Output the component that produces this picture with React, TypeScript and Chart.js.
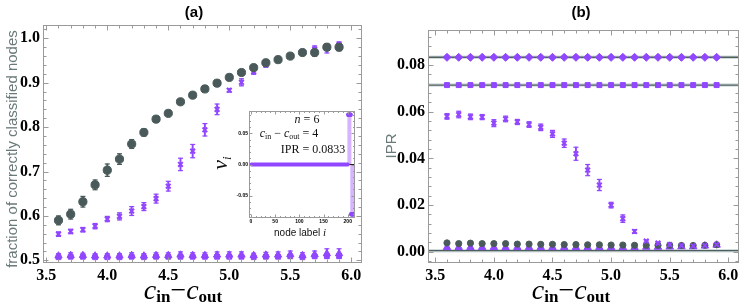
import React, { useEffect, useRef } from "react";
import { Chart, registerables } from "chart.js";
Chart.register(...registerables);

// ---------- shared ----------
const X_VALUES = [3.6, 3.7, 3.8, 3.9, 4.0, 4.1, 4.2, 4.3, 4.4, 4.5, 4.6, 4.7, 4.8, 4.9, 5.0, 5.1, 5.2, 5.3, 5.4, 5.5, 5.6, 5.7, 5.8, 5.9];
const X_TICKS = [3.5, 4.0, 4.5, 5.0, 5.5, 6.0];

// ---------- panel (a) ----------
const A_Y_TICKS = [0.5, 0.6, 0.7, 0.8, 0.9, 1.0];
const A_GRAY = [0.590, 0.604, 0.632, 0.670, 0.703, 0.728, 0.762, 0.788, 0.818, 0.831, 0.857, 0.872, 0.886, 0.899, 0.912, 0.923, 0.934, 0.945, 0.952, 0.960, 0.968, 0.968, 0.980, 0.980];
const A_GRAY_ERR = [0.010, 0.011, 0.012, 0.011, 0.014, 0.012, 0.010, 0.008, 0.004, 0.004, 0.004, 0.004, 0.004, 0.004, 0.004, 0.004, 0.004, 0.004, 0.003, 0.003, 0.004, 0.008, 0.006, 0.008];
const A_CROSS = [0.559, 0.565, 0.569, 0.577, 0.593, 0.599, 0.611, 0.621, 0.639, 0.667, 0.716, 0.746, 0.794, 0.840, 0.883, 0.901, 0.925, 0.940, 0.952, 0.960, 0.968, 0.976, 0.977, 0.986];
const A_CROSS_ERR = [0.005, 0.005, 0.005, 0.006, 0.006, 0.008, 0.010, 0.009, 0.010, 0.011, 0.014, 0.015, 0.014, 0.012, 0.004, 0.008, 0.006, 0.005, 0.004, 0.004, 0.004, 0.007, 0.010, 0.006];
const A_TRI = [0.510, 0.511, 0.511, 0.510, 0.510, 0.510, 0.511, 0.510, 0.511, 0.511, 0.512, 0.511, 0.511, 0.512, 0.512, 0.512, 0.511, 0.512, 0.512, 0.513, 0.511, 0.513, 0.515, 0.515];
const A_TRI_ERR = [0.005, 0.006, 0.005, 0.005, 0.005, 0.005, 0.006, 0.005, 0.006, 0.006, 0.007, 0.006, 0.006, 0.007, 0.007, 0.007, 0.005, 0.006, 0.007, 0.008, 0.006, 0.008, 0.011, 0.011];
const A_SQUARE = [0.507, 0.508, 0.508, 0.507, 0.507, 0.507, 0.508, 0.507, 0.508, 0.508, 0.508, 0.508, 0.508, 0.508, 0.508, 0.508, 0.507, 0.508, 0.508, 0.509, 0.507, 0.509, 0.510, 0.510];

// ---------- panel (b) ----------
const B_Y_TICKS = [0.0, 0.02, 0.04, 0.06, 0.08];
const B_DIAMOND = [0.0833, 0.0833, 0.0833, 0.0833, 0.0833, 0.0833, 0.0833, 0.0833, 0.0833, 0.0833, 0.0833, 0.0833, 0.0833, 0.0833, 0.0833, 0.0833, 0.0833, 0.0833, 0.0833, 0.0833, 0.0833, 0.0833, 0.0833, 0.0833];
const B_DIAMOND_ERR = [0.0008, 0.0008, 0.0008, 0.0008, 0.0008, 0.0008, 0.0008, 0.0008, 0.0008, 0.0008, 0.0008, 0.0008, 0.0008, 0.0008, 0.0008, 0.0008, 0.0008, 0.0008, 0.0008, 0.0008, 0.0008, 0.0008, 0.0008, 0.0008];
const B_SQUARE = [0.0714, 0.0714, 0.0714, 0.0714, 0.0714, 0.0714, 0.0714, 0.0714, 0.0714, 0.0714, 0.0714, 0.0714, 0.0714, 0.0714, 0.0714, 0.0714, 0.0714, 0.0714, 0.0714, 0.0714, 0.0714, 0.0714, 0.0714, 0.0714];
const B_CROSS = [0.0580, 0.0588, 0.0578, 0.0577, 0.0551, 0.0569, 0.0556, 0.0545, 0.0533, 0.0505, 0.0465, 0.0420, 0.0350, 0.0286, 0.0200, 0.0142, 0.0087, 0.0046, 0.0037, 0.0031, 0.0027, 0.0025, 0.0027, 0.0031];
const B_CROSS_ERR = [0.0012, 0.0014, 0.0012, 0.0011, 0.0015, 0.0012, 0.0011, 0.0012, 0.0014, 0.0015, 0.0018, 0.0028, 0.0024, 0.0024, 0.0012, 0.0016, 0.0008, 0.0004, 0.0004, 0.0004, 0.0004, 0.0004, 0.0004, 0.0004];
const B_GRAY = [0.0038, 0.0035, 0.0037, 0.0035, 0.0035, 0.0035, 0.0033, 0.0033, 0.0032, 0.0032, 0.0031, 0.0031, 0.0030, 0.0030, 0.0029, 0.0029, 0.0028, 0.0028, 0.0028, 0.0028, 0.0027, 0.0027, 0.0028, 0.0030];
const B_TRI = [0.0019, 0.0019, 0.0019, 0.0019, 0.0019, 0.0019, 0.0019, 0.0019, 0.0019, 0.0019, 0.0019, 0.0019, 0.0019, 0.0019, 0.0019, 0.0019, 0.0019, 0.0020, 0.0020, 0.0021, 0.0022, 0.0022, 0.0025, 0.0029];
const B_REF_LINES = [0.0833, 0.0714, 0.0005];

// ---------- inset ----------
const INSET_ZERO_SPAN = [1, 200];
const INSET_POS_NODES = [201, 202, 203, 204, 205, 206];
const INSET_POS_VALUES = [0.08, 0.08, 0.08, 0.08, 0.08, 0.08];
const INSET_NEG_NODES = [207, 208, 209, 210, 211, 212];
const INSET_NEG_VALUES = [-0.08, -0.08, -0.08, -0.08, -0.08, -0.08];
const INSET_X_TICKS = [0, 50, 100, 150, 200];
const INSET_Y_TICKS = [-0.05, 0, 0.05];

// ---------- styles ----------
const PURPLE = "#9146ff";
const GRAY = "#4a5a5a";
const LABEL_GRAY = "#6a7a7a";
const SERIF = "'Liberation Serif', 'Times New Roman', 'DejaVu Serif', serif";
const SANS = "'Liberation Sans', Arial, sans-serif";

const pts = (ys: number[]) => X_VALUES.map((x, i) => ({ x, y: ys[i] }));

function markerDs(ys: number[], style: string, radius: number, color: string, border = 1) {
  return {
    type: "scatter",
    data: pts(ys),
    pointStyle: style,
    pointRadius: radius,
    pointBackgroundColor: color,
    pointBorderColor: color,
    pointBorderWidth: border,
    showLine: false,
  };
}

function errDs(ys: number[], es: number[], color: string, cap = 2.5) {
  return [
    {
      type: "bar",
      data: X_VALUES.map((x, i) => ({ x, y: [ys[i] - es[i], ys[i] + es[i]] })),
      backgroundColor: color,
      borderWidth: 0,
      barThickness: 1.3,
      grouped: false,
    },
    {
      type: "scatter",
      data: X_VALUES.flatMap((x, i) => [
        { x, y: ys[i] - es[i] },
        { x, y: ys[i] + es[i] },
      ]),
      pointStyle: "line",
      pointRadius: cap,
      pointBorderColor: color,
      pointBorderWidth: 1.2,
      showLine: false,
    },
  ];
}

type Part = { t: string; font: string; dy?: number };
type TextItem = { parts: Part[]; x: number; y: number; color: string; rotate?: boolean; align?: "center" | "left" };

function textPlugin(items: TextItem[]) {
  return {
    id: "texts",
    afterDraw(chart: any) {
      const ctx = chart.ctx;
      ctx.save();
      for (const it of items) {
        ctx.save();
        ctx.fillStyle = it.color;
        ctx.textBaseline = "alphabetic";
        ctx.textAlign = "left";
        let w = 0;
        for (const p of it.parts) {
          ctx.font = p.font;
          w += ctx.measureText(p.t).width;
        }
        ctx.translate(it.x, it.y);
        if (it.rotate) ctx.rotate(-Math.PI / 2);
        let cx = it.align === "left" ? 0 : -w / 2;
        for (const p of it.parts) {
          ctx.font = p.font;
          ctx.fillText(p.t, cx, p.dy || 0);
          cx += ctx.measureText(p.t).width;
        }
        ctx.restore();
      }
      ctx.restore();
    },
  };
}

function framePlugin(o: { xMajor: number[]; yMajor: number[]; xMinor: number; yMinor: number; major: number; minor: number; color: string }) {
  return {
    id: "frameTicks",
    afterDraw(chart: any) {
      const ctx = chart.ctx;
      const { left, right, top, bottom } = chart.chartArea;
      const xs = chart.scales.x;
      const ys = chart.scales.y;
      ctx.save();
      ctx.strokeStyle = o.color;
      ctx.lineWidth = 1;
      const L = Math.round(left) + 0.5, R = Math.round(right) - 0.5, T = Math.round(top) + 0.5, B = Math.round(bottom) - 0.5;
      ctx.strokeRect(L, T, R - L, B - T);
      ctx.beginPath();
      const kx0 = Math.ceil(xs.min / o.xMinor - 1e-6), kx1 = Math.floor(xs.max / o.xMinor + 1e-6);
      for (let k = kx0; k <= kx1; k++) {
        const v = k * o.xMinor;
        const isMajor = o.xMajor.some((m) => Math.abs(m - v) < o.xMinor / 10);
        const len = isMajor ? o.major : o.minor;
        const px = Math.round(xs.getPixelForValue(v)) + 0.5;
        ctx.moveTo(px, B); ctx.lineTo(px, B - len);
        ctx.moveTo(px, T); ctx.lineTo(px, T + len);
      }
      const ky0 = Math.ceil(ys.min / o.yMinor - 1e-6), ky1 = Math.floor(ys.max / o.yMinor + 1e-6);
      for (let k = ky0; k <= ky1; k++) {
        const v = k * o.yMinor;
        const isMajor = o.yMajor.some((m) => Math.abs(m - v) < o.yMinor / 10);
        const len = isMajor ? o.major : o.minor;
        const py = Math.round(ys.getPixelForValue(v)) + 0.5;
        ctx.moveTo(L, py); ctx.lineTo(L + len, py);
        ctx.moveTo(R, py); ctx.lineTo(R - len, py);
      }
      ctx.stroke();
      ctx.restore();
    },
  };
}

function whiteAreaPlugin() {
  return {
    id: "whiteArea",
    beforeDraw(chart: any) {
      const { left, right, top, bottom } = chart.chartArea;
      chart.ctx.save();
      chart.ctx.fillStyle = "#ffffff";
      chart.ctx.fillRect(left, top, right - left, bottom - top);
      chart.ctx.restore();
    },
  };
}

function axes(xMin: number, xMax: number, yMin: number, yMax: number, xTicks: number[], yTicks: number[], yWidth: number, xHeight: number, tickFont: any, fmtX: (v: number) => string, fmtY: (v: number) => string, pad = 3) {
  return {
    x: {
      type: "linear",
      min: xMin,
      max: xMax,
      offset: false,
      grid: { display: false, drawTicks: false },
      border: { display: false },
      afterBuildTicks: (s: any) => { s.ticks = xTicks.map((v) => ({ value: v })); },
      afterFit: (s: any) => { s.height = xHeight; },
      ticks: { font: tickFont, color: "#000", padding: pad, maxRotation: 0, autoSkip: false, callback: (v: any) => fmtX(Number(v)) },
    },
    y: {
      type: "linear",
      min: yMin,
      max: yMax,
      grid: { display: false, drawTicks: false },
      border: { display: false },
      afterBuildTicks: (s: any) => { s.ticks = yTicks.map((v) => ({ value: v })); },
      afterFit: (s: any) => { s.width = yWidth; },
      ticks: { font: tickFont, color: "#000", padding: pad, autoSkip: false, callback: (v: any) => fmtY(Number(v)) },
    },
  };
}

const baseOpts = {
  responsive: false,
  animation: false,
  devicePixelRatio: 1,
  events: [],
  plugins: { legend: { display: false }, tooltip: { enabled: false } },
};

const xTitle = (x: number): TextItem => ({
  x,
  y: 299,
  color: "#000",
  parts: [
    { t: "c", font: `italic 28px ${SERIF}` },
    { t: "in", font: `bold 17px ${SERIF}`, dy: 3 },
    { t: "\u2212", font: `28px ${SERIF}` },
    { t: "c", font: `italic 28px ${SERIF}` },
    { t: "out", font: `bold 17px ${SERIF}`, dy: 3 },
  ],
});

const tickFont = { family: SERIF, size: 16, weight: "bold" };

function configA(): any {
  const xMin = 3.473, xMax = 6.088, yMin = 0.494, yMax = 1.030;
  return {
    type: "scatter",
    data: {
      datasets: [
        markerDs(A_GRAY, "circle", 4.1, GRAY),
        markerDs(A_CROSS, "crossRot", 3.3, PURPLE, 2),
        markerDs(A_TRI, "triangle", 4.2, PURPLE),
        markerDs(A_SQUARE, "rect", 3.4, PURPLE),
        ...errDs(A_GRAY, A_GRAY_ERR, GRAY),
        ...errDs(A_CROSS, A_CROSS_ERR, PURPLE),
        ...errDs(A_TRI, A_TRI_ERR, PURPLE),
      ],
    },
    options: {
      ...baseOpts,
      layout: { padding: { left: 0, top: 25, right: 18, bottom: 0 } },
      scales: axes(xMin, xMax, yMin, yMax, X_TICKS, A_Y_TICKS, 43, 43, tickFont, (v) => v.toFixed(1), (v) => v.toFixed(1), 3),
    },
    plugins: [
      framePlugin({ xMajor: X_TICKS, yMajor: A_Y_TICKS, xMinor: 0.1, yMinor: 0.02, major: 5, minor: 3, color: "#9a9a9a" }),
      textPlugin([
        { x: 194, y: 17, color: "#000", parts: [{ t: "(a)", font: `bold 15px ${SANS}` }] },
        { x: 17, y: 149, color: LABEL_GRAY, rotate: true, parts: [{ t: "fraction of correctly classified nodes", font: `15px ${SANS}` }] },
        xTitle(183),
      ]),
    ],
  };
}

function configB(): any {
  const xMin = 3.438, xMax = 6.091, yMin = -0.0048, yMax = 0.095;
  return {
    type: "scatter",
    data: {
      datasets: [
        markerDs(B_DIAMOND, "rectRot", 4, PURPLE),
        markerDs(B_SQUARE, "rect", 3.5, PURPLE),
        markerDs(B_CROSS, "crossRot", 3.3, PURPLE, 2),
        markerDs(B_GRAY, "circle", 3.1, GRAY),
        markerDs(B_TRI, "triangle", 4.3, PURPLE),
        ...errDs(B_DIAMOND, B_DIAMOND_ERR, PURPLE, 0.1),
        ...errDs(B_CROSS, B_CROSS_ERR, PURPLE),
        ...B_REF_LINES.map((v) => ({
          type: "line",
          data: [{ x: xMin, y: v }, { x: xMax, y: v }],
          borderColor: "#4f5f5f",
          borderWidth: 1.4,
          pointRadius: 0,
        })),
        ...B_REF_LINES.map((v) => ({
          type: "line",
          data: [{ x: xMin, y: v }, { x: xMax, y: v }],
          borderColor: "rgba(150,175,175,0.45)",
          borderWidth: 3.5,
          pointRadius: 0,
        })),
      ],
    },
    options: {
      ...baseOpts,
      layout: { padding: { left: 0, top: 30, right: 8, bottom: 0 } },
      scales: axes(xMin, xMax, yMin, yMax, X_TICKS, B_Y_TICKS, 48, 43, tickFont, (v) => v.toFixed(1), (v) => v.toFixed(2), 3),
    },
    plugins: [
      framePlugin({ xMajor: X_TICKS, yMajor: B_Y_TICKS, xMinor: 0.1, yMinor: 0.004, major: 5, minor: 3, color: "#9a9a9a" }),
      textPlugin([
        { x: 201, y: 17, color: "#000", parts: [{ t: "(b)", font: `bold 15px ${SANS}` }] },
        { x: 16, y: 146, color: LABEL_GRAY, rotate: true, parts: [{ t: "IPR", font: `15px ${SANS}` }] },
        xTitle(191),
      ]),
    ],
  };
}

function configInset(): any {
  const xMin = -4, xMax = 215, yMin = -0.086, yMax = 0.086;
  const smallFont = { family: SANS, size: 5, weight: "bold" };
  return {
    type: "scatter",
    data: {
      datasets: [
        {
          type: "scatter",
          data: [...INSET_POS_NODES.map((x, i) => ({ x, y: INSET_POS_VALUES[i] })), ...INSET_NEG_NODES.map((x, i) => ({ x, y: INSET_NEG_VALUES[i] }))],
          pointRadius: 2.2,
          pointBackgroundColor: PURPLE,
          pointBorderColor: PURPLE,
          pointBorderWidth: 0,
        },
        {
          type: "line",
          data: INSET_ZERO_SPAN.map((x) => ({ x, y: 0 })),
          borderColor: PURPLE,
          borderWidth: 4,
          borderCapStyle: "round",
          pointRadius: 0,
        },
        {
          type: "line",
          data: [{ x: xMin, y: 0 }, { x: xMax, y: 0 }],
          borderColor: "#222",
          borderWidth: 1,
          pointRadius: 0,
        },
        {
          type: "bar",
          data: [...INSET_POS_NODES.map((x, i) => ({ x, y: [0, INSET_POS_VALUES[i]] })), ...INSET_NEG_NODES.map((x, i) => ({ x, y: [0, INSET_NEG_VALUES[i]] }))],
          backgroundColor: "rgba(214,180,255,0.9)",
          borderWidth: 0,
          barThickness: 1,
          grouped: false,
        },
      ],
    },
    options: {
      ...baseOpts,
      layout: { padding: { left: 0, top: 11, right: 10, bottom: 0 } },
      scales: axes(xMin, xMax, yMin, yMax, INSET_X_TICKS, INSET_Y_TICKS, 49, 27, smallFont, (v) => String(Math.round(v)), (v) => v.toFixed(2), 1),
    },
    plugins: [
      whiteAreaPlugin(),
      framePlugin({ xMajor: INSET_X_TICKS, yMajor: INSET_Y_TICKS, xMinor: 10, yMinor: 0.01, major: 3, minor: 1.5, color: "#9a9a9a" }),
      textPlugin([
        { x: 107, y: 23, color: "#111", parts: [{ t: "n", font: `italic 12px ${SERIF}` }, { t: " = 6", font: `12px ${SERIF}` }] },
        {
          x: 89,
          y: 37,
          color: "#111",
          parts: [
            { t: "c", font: `italic 12px ${SERIF}` },
            { t: "in", font: `8px ${SERIF}`, dy: 2 },
            { t: " \u2212 ", font: `12px ${SERIF}` },
            { t: "c", font: `italic 12px ${SERIF}` },
            { t: "out", font: `8px ${SERIF}`, dy: 2 },
            { t: " = 4", font: `12px ${SERIF}` },
          ],
        },
        { x: 113, y: 53, color: "#111", parts: [{ t: "IPR = 0.0833", font: `12px ${SERIF}` }] },
        { x: 100, y: 136, color: "#111", parts: [{ t: "node label ", font: `10px ${SANS}` }, { t: "i", font: `italic 11px ${SERIF}` }] },
        { x: 27, y: 63, color: "#111", rotate: true, parts: [{ t: "v", font: `italic 22px ${SERIF}` }, { t: "i", font: `italic 13px ${SERIF}`, dy: 4 }] },
      ]),
    ],
  };
}

export default function App() {
  const refA = useRef<HTMLCanvasElement>(null);
  const refB = useRef<HTMLCanvasElement>(null);
  const refI = useRef<HTMLCanvasElement>(null);
  useEffect(() => {
    document.body.style.margin = "0";
    const charts = [
      new Chart(refA.current as HTMLCanvasElement, configA()),
      new Chart(refB.current as HTMLCanvasElement, configB()),
      new Chart(refI.current as HTMLCanvasElement, configInset()),
    ];
    return () => charts.forEach((c) => c.destroy());
  }, []);
  return (
    <div style={{ position: "relative", width: 747, height: 306, background: "#fff", overflow: "hidden" }}>
      <canvas ref={refA} width={380} height={306} style={{ position: "absolute", left: 0, top: 0, width: 380, height: 306 }} />
      <canvas ref={refB} width={367} height={306} style={{ position: "absolute", left: 380, top: 0, width: 367, height: 306 }} />
      <canvas ref={refI} width={165} height={145} style={{ position: "absolute", left: 200, top: 100, width: 165, height: 145 }} />
    </div>
  );
}
